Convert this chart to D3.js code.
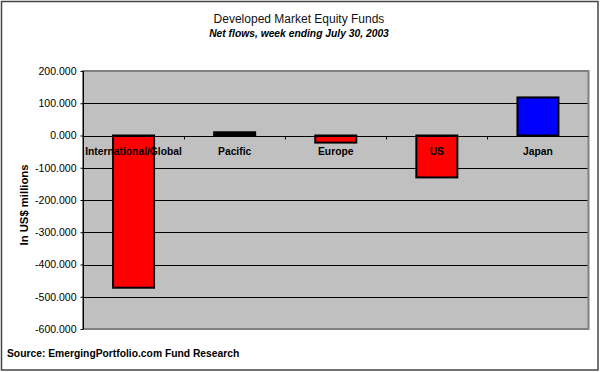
<!DOCTYPE html>
<html><head><meta charset="utf-8">
<script src="https://cdn.jsdelivr.net/npm/d3@7"></script>
<style>body{margin:0;background:#fff}svg{display:block}text{font-family:Arial,"Liberation Sans",sans-serif}</style>
</head><body>
<svg id="c" width="600" height="372"></svg>
<script>
const categories = ["International/Global","Pacific","Europe","US","Japan"];
const values = [-472, 10, -22, -130, 118];
const barColors = ["#ff0000","#000000","#ff0000","#ff0000","#0000ff"];
const yTicks = [200,100,0,-100,-200,-300,-400,-500,-600];
const title = "Developed Market Equity Funds";
const subtitle = "Net flows, week ending July 30, 2003";
const yLabel = "In US$ millions";
const source = "Source: EmergingPortfolio.com Fund Research";

const svg = d3.select("#c");
svg.append("rect").attr("x",1.5).attr("y",1.5).attr("width",596.5).attr("height",368.5)
  .attr("fill","#fff").attr("stroke","#444").attr("stroke-width",1.5);

const L=83, R=588.5, T=71, B=329;
const x = d3.scaleBand().domain(categories).range([L,R]).paddingInner(0).paddingOuter(0);
const y = d3.scaleLinear().domain([-600,200]).range([B,T]);

svg.append("rect").attr("x",L).attr("y",T).attr("width",R-L).attr("height",B-T)
  .attr("fill","#c0c0c0").attr("stroke","#808080").attr("stroke-width",2);

// gridlines
svg.append("g").selectAll("line").data(yTicks.filter(d=>d!==200 && d!==-600)).join("line")
  .attr("x1",L).attr("x2",R-1).attr("y1",d=>Math.round(y(d))+0.5).attr("y2",d=>Math.round(y(d))+0.5)
  .attr("stroke","#000").attr("stroke-width",1);

// y axis
const yAxis = d3.axisLeft(y).tickValues(yTicks).tickSize(3).tickPadding(4)
  .tickFormat(d=>d3.format(".3f")(d).replace("−","-"));
const gy = svg.append("g").attr("transform",`translate(${L}.5,0)`).call(yAxis);
gy.select(".domain").attr("stroke","#000").attr("d",`M0,${T}V${B}`);
gy.selectAll(".tick line").attr("stroke","#000");
gy.selectAll(".tick text").attr("font-size",10.5).attr("fill","#000").style("font-family","Arial,'Liberation Sans',sans-serif");

// bars
const bw = 41;
svg.append("g").selectAll("rect").data(categories).join("rect")
  .attr("x",(d)=>x(d)+x.bandwidth()/2-bw/2)
  .attr("y",(d,i)=>y(Math.max(0,values[i])))
  .attr("width",bw)
  .attr("height",(d,i)=>Math.abs(y(values[i])-y(0)))
  .attr("fill",(d,i)=>barColors[i]).attr("stroke","#000").attr("stroke-width",2);

// x axis at 0
const gx = svg.append("g").attr("transform",`translate(0,${Math.round(y(0))+0.5})`);
gx.append("line").attr("x1",L).attr("x2",R).attr("stroke","#000");
gx.selectAll("line.t").data(categories.slice(1)).join("line").attr("class","t")
  .attr("x1",d=>Math.round(x(d))+0.5).attr("x2",d=>Math.round(x(d))+0.5).attr("y1",0).attr("y2",3).attr("stroke","#000");
gx.selectAll("text").data(categories).join("text")
  .attr("x",d=>x(d)+x.bandwidth()/2).attr("y",18.5).attr("text-anchor","middle")
  .attr("font-size",10.3).attr("font-weight","bold").attr("fill","#000").text(d=>d);

svg.append("text").attr("x",299).attr("y",23).attr("text-anchor","middle").attr("font-size",12).attr("fill","#111").text(title);
svg.append("text").attr("x",299).attr("y",37).attr("text-anchor","middle").attr("font-size",10.3)
  .attr("font-weight","bold").attr("font-style","italic").text(subtitle);
svg.append("text").attr("transform","translate(28,205) rotate(-90)").attr("text-anchor","middle")
  .attr("font-size",11.3).attr("font-weight","bold").text(yLabel);
svg.append("text").attr("x",7).attr("y",357).attr("font-size",10.3).attr("font-weight","bold").text(source);
</script>
</body></html>
